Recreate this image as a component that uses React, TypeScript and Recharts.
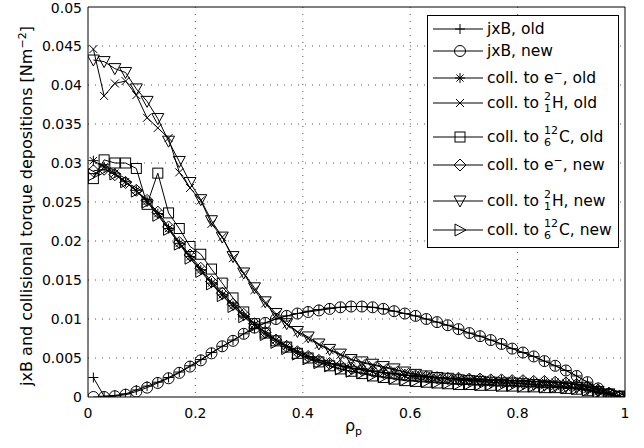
import React from 'react'
import { LineChart, Line, XAxis, YAxis, CartesianGrid } from 'recharts'

const RHO = [0.01, 0.03, 0.05, 0.07, 0.09, 0.11, 0.13, 0.15, 0.17, 0.19, 0.21, 0.23, 0.25, 0.27, 0.29, 0.31, 0.33, 0.35, 0.37, 0.39, 0.41, 0.43, 0.45, 0.47, 0.49, 0.51, 0.53, 0.55, 0.57, 0.59, 0.61, 0.63, 0.65, 0.67, 0.69, 0.71, 0.73, 0.75, 0.77, 0.79, 0.81, 0.83, 0.85, 0.87, 0.89, 0.91, 0.93, 0.95, 0.97, 0.99]

const JXB_OLD = [0.0025, 0.0001, 0.0002, 0.0004, 0.0009, 0.0014, 0.0019, 0.0025, 0.0032, 0.004, 0.0048, 0.0057, 0.0065, 0.0073, 0.0081, 0.0088, 0.0095, 0.01, 0.0104, 0.0107, 0.011, 0.0112, 0.0114, 0.0115, 0.0116, 0.0116, 0.0115, 0.0113, 0.011, 0.0107, 0.0104, 0.01, 0.0096, 0.0092, 0.0087, 0.0082, 0.0078, 0.0073, 0.0068, 0.0062, 0.0057, 0.0052, 0.0046, 0.004, 0.0034, 0.0027, 0.0019, 0.0011, 0.0004, 0.0]
const JXB_NEW = [0.0, 0.0, 0.0001, 0.0003, 0.0007, 0.0012, 0.0018, 0.0024, 0.0031, 0.0039, 0.0047, 0.0056, 0.0065, 0.0072, 0.0081, 0.0089, 0.0095, 0.01, 0.0104, 0.0107, 0.0109, 0.0111, 0.0113, 0.0115, 0.0116, 0.0116, 0.0115, 0.0113, 0.011, 0.0107, 0.0104, 0.01, 0.0096, 0.0092, 0.0087, 0.0082, 0.0078, 0.0073, 0.0068, 0.0062, 0.0057, 0.0052, 0.0046, 0.004, 0.0034, 0.0027, 0.0019, 0.0011, 0.0004, 0.0]
const E_OLD = [0.0303, 0.0295, 0.0287, 0.0276, 0.0265, 0.0251, 0.0235, 0.0216, 0.0197, 0.018, 0.0163, 0.0146, 0.0131, 0.0117, 0.0104, 0.0093, 0.0082, 0.0073, 0.0065, 0.0058, 0.0052, 0.0047, 0.0043, 0.004, 0.0037, 0.0035, 0.0033, 0.0031, 0.003, 0.0028, 0.0027, 0.0026, 0.0025, 0.0024, 0.0024, 0.0023, 0.0023, 0.0022, 0.0022, 0.0021, 0.0021, 0.002, 0.002, 0.0019, 0.0018, 0.0016, 0.0013, 0.0009, 0.0005, 0.0001]
const H2_OLD = [0.0446, 0.0386, 0.0402, 0.0405, 0.0387, 0.0358, 0.0345, 0.0332, 0.0288, 0.0268, 0.0252, 0.0222, 0.0205, 0.0178, 0.0158, 0.0137, 0.012, 0.0105, 0.0093, 0.0083, 0.0075, 0.0067, 0.006, 0.0054, 0.0048, 0.0044, 0.0041, 0.0038, 0.0035, 0.0032, 0.0029, 0.0027, 0.0025, 0.0024, 0.0022, 0.0021, 0.002, 0.0019, 0.0018, 0.0018, 0.0017, 0.0016, 0.0015, 0.0014, 0.0013, 0.0012, 0.001, 0.0007, 0.0004, 0.0001]
const C12_OLD = [0.028, 0.0304, 0.03, 0.03, 0.0293, 0.0247, 0.0287, 0.0236, 0.0216, 0.0193, 0.0183, 0.0164, 0.0146, 0.0127, 0.0109, 0.0094, 0.0082, 0.0072, 0.0064, 0.0056, 0.005, 0.0045, 0.004, 0.0036, 0.0033, 0.003, 0.0027, 0.0025, 0.0023, 0.0021, 0.002, 0.0019, 0.0018, 0.0017, 0.0016, 0.0016, 0.0015, 0.0015, 0.0014, 0.0014, 0.0013, 0.0013, 0.0012, 0.0012, 0.0011, 0.001, 0.0008, 0.0005, 0.0003, 0.0001]
const E_NEW = [0.029, 0.0292, 0.0285, 0.0275, 0.0265, 0.0252, 0.0237, 0.0218, 0.0198, 0.0182, 0.0165, 0.0148, 0.0133, 0.0119, 0.0106, 0.0094, 0.0083, 0.0073, 0.0065, 0.0058, 0.0052, 0.0047, 0.0043, 0.004, 0.0037, 0.0035, 0.0033, 0.0031, 0.003, 0.0028, 0.0027, 0.0026, 0.0025, 0.0024, 0.0024, 0.0023, 0.0023, 0.0022, 0.0022, 0.0021, 0.0021, 0.002, 0.002, 0.0019, 0.0018, 0.0016, 0.0013, 0.0009, 0.0005, 0.0001]
const H2_NEW = [0.0432, 0.043, 0.0421, 0.0416, 0.0395, 0.0379, 0.0357, 0.0328, 0.0302, 0.0275, 0.0253, 0.0226, 0.0205, 0.018, 0.0159, 0.014, 0.0122, 0.0107, 0.0094, 0.0084, 0.0077, 0.0068, 0.0061, 0.0055, 0.0048, 0.0045, 0.0042, 0.0039, 0.0036, 0.0032, 0.0029, 0.0027, 0.0025, 0.0024, 0.0022, 0.0021, 0.002, 0.0019, 0.0018, 0.0018, 0.0017, 0.0016, 0.0015, 0.0014, 0.0013, 0.0012, 0.001, 0.0007, 0.0004, 0.0001]
const C12_NEW = [0.0285, 0.0292, 0.0286, 0.0276, 0.0264, 0.025, 0.0233, 0.0215, 0.0196, 0.0178, 0.0161, 0.0145, 0.013, 0.0116, 0.0103, 0.0091, 0.008, 0.007, 0.0062, 0.0055, 0.0049, 0.0044, 0.004, 0.0036, 0.0033, 0.0031, 0.0028, 0.0026, 0.0024, 0.0022, 0.0021, 0.002, 0.0019, 0.0018, 0.0017, 0.0017, 0.0016, 0.0016, 0.0015, 0.0015, 0.0014, 0.0014, 0.0013, 0.0013, 0.0012, 0.0011, 0.0009, 0.0006, 0.0003, 0.0001]

const X_TICKS = [0, 0.2, 0.4, 0.6, 0.8, 1]
const Y_TICKS = [0, 0.005, 0.01, 0.015, 0.02, 0.025, 0.03, 0.035, 0.04, 0.045, 0.05]

type Shape = 'plus' | 'circle' | 'star' | 'cross' | 'square' | 'diamond' | 'tdown' | 'tright'

const SERIES: { key: string; values: number[]; shape: Shape }[] = [
  { key: 'jxbOld', values: JXB_OLD, shape: 'plus' },
  { key: 'jxbNew', values: JXB_NEW, shape: 'circle' },
  { key: 'eOld', values: E_OLD, shape: 'star' },
  { key: 'h2Old', values: H2_OLD, shape: 'cross' },
  { key: 'c12Old', values: C12_OLD, shape: 'square' },
  { key: 'eNew', values: E_NEW, shape: 'diamond' },
  { key: 'h2New', values: H2_NEW, shape: 'tdown' },
  { key: 'c12New', values: C12_NEW, shape: 'tright' },
]

const data = RHO.map((rho, i) => {
  const row: Record<string, number> = { rho }
  SERIES.forEach((s) => {
    row[s.key] = s.values[i]
  })
  return row
})

const FONT = '"DejaVu Sans", sans-serif'

function Marker({ cx, cy, shape }: { cx: number; cy: number; shape: Shape }) {
  const p = { stroke: '#000', strokeWidth: 1, fill: 'none' }
  switch (shape) {
    case 'plus':
      return <path {...p} d={`M${cx - 5} ${cy}H${cx + 5}M${cx} ${cy - 5}V${cy + 5}`} />
    case 'circle':
      return <circle {...p} cx={cx} cy={cy} r={5.5} />
    case 'star':
      return (
        <path
          {...p}
          d={`M${cx - 5} ${cy}H${cx + 5}M${cx} ${cy - 5}V${cy + 5}M${cx - 3.6} ${cy - 3.6}L${cx + 3.6} ${cy + 3.6}M${cx - 3.6} ${cy + 3.6}L${cx + 3.6} ${cy - 3.6}`}
        />
      )
    case 'cross':
      return <path {...p} d={`M${cx - 4} ${cy - 4}L${cx + 4} ${cy + 4}M${cx - 4} ${cy + 4}L${cx + 4} ${cy - 4}`} />
    case 'square':
      return <rect {...p} x={cx - 5} y={cy - 5} width={10} height={10} />
    case 'diamond':
      return <path {...p} d={`M${cx} ${cy - 6}L${cx + 6} ${cy}L${cx} ${cy + 6}L${cx - 6} ${cy}Z`} />
    case 'tdown':
      return <path {...p} d={`M${cx - 6} ${cy - 5}L${cx + 6} ${cy - 5}L${cx} ${cy + 6}Z`} />
    case 'tright':
      return <path {...p} d={`M${cx - 5} ${cy - 6}L${cx + 6} ${cy}L${cx - 5} ${cy + 6}Z`} />
  }
  return null
}

// stacked pre-super/subscript like ^{2}_{1}H
function Pre({ top, bot }: { top: string; bot: string }) {
  return (
    <span
      style={{
        display: 'inline-flex',
        flexDirection: 'column',
        fontSize: 11,
        lineHeight: '12px',
        verticalAlign: 'middle',
        marginRight: 1,
      }}
    >
      <span>{top}</span>
      <span>{bot}</span>
    </span>
  )
}

const sup = { fontSize: 11, verticalAlign: 'super', lineHeight: 0 } as React.CSSProperties

const LEGEND = [
  { shape: 'plus' as Shape, y: 28, text: <>jxB, old</> },
  { shape: 'circle' as Shape, y: 50, text: <>jxB, new</> },
  { shape: 'star' as Shape, y: 77, text: <>coll. to e<span style={sup}>−</span>, old</> },
  { shape: 'cross' as Shape, y: 102, text: <>coll. to <Pre top="2" bot="1" />H, old</> },
  { shape: 'square' as Shape, y: 136, text: <>coll. to <Pre top="12" bot="6" />C, old</> },
  { shape: 'diamond' as Shape, y: 164, text: <>coll. to e<span style={sup}>−</span>, new</> },
  { shape: 'tdown' as Shape, y: 200, text: <>coll. to <Pre top="2" bot="1" />H, new</> },
  { shape: 'tright' as Shape, y: 229, text: <>coll. to <Pre top="12" bot="6" />C, new</> },
]

function LegendBox() {
  const left = 427
  const top = 15
  return (
    <div
      style={{
        position: 'absolute',
        left,
        top,
        width: 190,
        height: 231,
        border: '1px solid #000',
        background: '#fff',
        fontFamily: FONT,
        fontSize: 15.5,
        color: '#000',
      }}
    >
      {LEGEND.map((item, i) => (
        <div
          key={i}
          style={{
            position: 'absolute',
            left: 0,
            top: item.y - top - 16,
            height: 32,
            display: 'flex',
            alignItems: 'center',
            whiteSpace: 'nowrap',
          }}
        >
          <svg width={50} height={32} style={{ marginLeft: 5, flex: 'none' }}>
            <line x1={0} x2={50} y1={16} y2={16} stroke="#000" strokeWidth={1} />
            <Marker cx={27} cy={16} shape={item.shape} />
          </svg>
          <span style={{ marginLeft: 4 }}>{item.text}</span>
        </div>
      ))}
    </div>
  )
}

function YLabel() {
  const bx = 32
  const cy = 206
  return (
    <text
      x={bx}
      y={cy}
      transform={`rotate(-90, ${bx}, ${cy})`}
      textAnchor="middle"
      fontSize={16}
      fill="#000"
      fontFamily={FONT}
    >
      jxB and collisional torque depositions [Nm
      <tspan dy={-6} fontSize={11}>
        −2
      </tspan>
      <tspan dy={6}>]</tspan>
    </text>
  )
}

function XLabel(props: any) {
  const vb = props.viewBox || { x: 0, y: 0, width: 0, height: 0 }
  const cx = vb.x + vb.width / 2
  return (
    <text x={cx - 3} y={vb.y + 34} textAnchor="middle" fontSize={16} fill="#000" fontFamily={FONT}>
      ρ
      <tspan dy={4} fontSize={11}>
        p
      </tspan>
    </text>
  )
}

export default function App() {
  const tickStyle = { fontSize: 14, fill: '#000', fontFamily: FONT }
  return (
    <div style={{ position: 'absolute', left: 0, top: 0, width: 644, height: 448, background: '#fff', fontFamily: FONT }}>
      <LineChart width={644} height={448} data={data} margin={{ top: 7, right: 19, bottom: 21, left: 0 }}>
        <CartesianGrid
          xAxisId="b"
          yAxisId="l"
          stroke="#555"
          strokeDasharray="1 6"
          horizontalValues={Y_TICKS.slice(1, -1)}
          verticalValues={X_TICKS.slice(1, -1)}
        />
        <XAxis
          xAxisId="b"
          dataKey="rho"
          type="number"
          domain={[0, 1]}
          ticks={X_TICKS}
          allowDataOverflow
          height={30}
          tickLine={false}
          tickSize={6}
          tickMargin={5}
          axisLine={{ stroke: '#000' }}
          tick={tickStyle}
          label={XLabel}
        />
        <XAxis
          xAxisId="bm"
          type="number"
          domain={[0, 1]}
          ticks={X_TICKS}
          allowDataOverflow
          mirror
          tick={false}
          tickSize={5}
          axisLine={false}
          tickLine={{ stroke: '#000' }}
        />
        <XAxis
          xAxisId="t"
          orientation="top"
          type="number"
          domain={[0, 1]}
          ticks={X_TICKS}
          allowDataOverflow
          mirror
          tick={false}
          tickSize={5}
          axisLine={{ stroke: '#000' }}
          tickLine={{ stroke: '#000' }}
        />
        <YAxis
          yAxisId="l"
          type="number"
          domain={[0, 0.05]}
          ticks={Y_TICKS}
          allowDataOverflow
          width={88}
          tickLine={false}
          tickSize={4}
          tickMargin={2}
          axisLine={{ stroke: '#000' }}
          tick={tickStyle}
          label={YLabel}
        />
        <YAxis
          yAxisId="lm"
          type="number"
          domain={[0, 0.05]}
          ticks={Y_TICKS}
          allowDataOverflow
          mirror
          tick={false}
          tickSize={5}
          axisLine={false}
          tickLine={{ stroke: '#000' }}
        />
        <YAxis
          yAxisId="r"
          orientation="right"
          type="number"
          domain={[0, 0.05]}
          ticks={Y_TICKS}
          allowDataOverflow
          mirror
          tick={false}
          tickSize={5}
          axisLine={{ stroke: '#000' }}
          tickLine={{ stroke: '#000' }}
        />
        {SERIES.map((s) => (
          <Line
            key={s.key}
            xAxisId="b"
            yAxisId="l"
            dataKey={s.key}
            type="linear"
            stroke="#000"
            strokeWidth={1}
            isAnimationActive={false}
            activeDot={false}
            dot={(p: any) => (
              <g key={`${s.key}-${p.index}`}>
                <Marker cx={p.cx} cy={p.cy} shape={s.shape} />
              </g>
            )}
          />
        ))}
      </LineChart>
      <LegendBox />
    </div>
  )
}
